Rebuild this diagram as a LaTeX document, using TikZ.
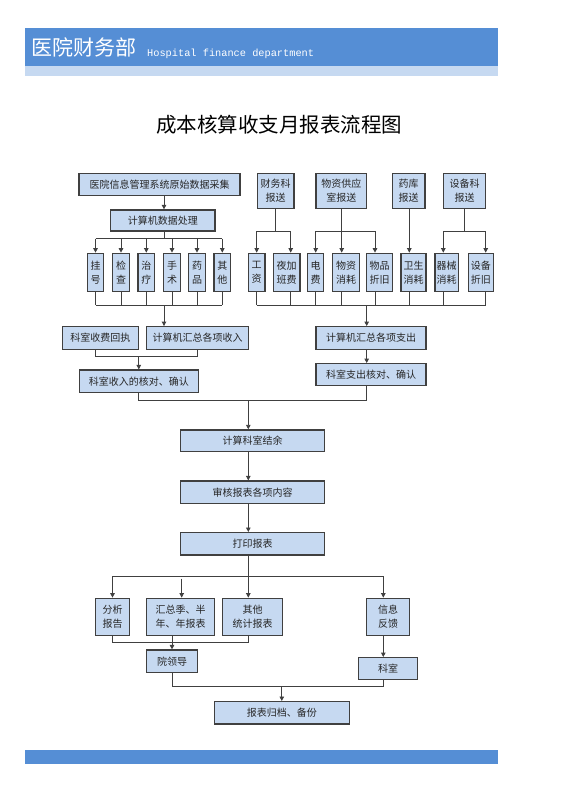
\documentclass[tikz,border=0pt]{standalone}
\usepackage{fontspec}
\newfontfamily\cjk{Noto Sans CJK SC}
\newfontfamily\monof{Liberation Mono}
\usetikzlibrary{arrows.meta}
\definecolor{hdrblue}{HTML}{558ED5}
\definecolor{hdrlight}{HTML}{C6D9F1}
\definecolor{boxfill}{HTML}{C6D9F1}
\definecolor{boxline}{HTML}{404040}
\definecolor{conn}{HTML}{404040}
\begin{document}
\begin{tikzpicture}[x=1pt,y=-1pt,
  box/.style={draw=boxline, line width=1.3pt, fill=boxfill, inner sep=0pt, align=center,
    font=\cjk\fontsize{10}{14}\selectfont, text=black!85},
  link/.style={draw=conn, line width=0.9pt},
  arr/.style={link, -{Triangle[length=4.5pt,width=4.5pt]}}]
\useasboundingbox (0,0) rectangle (560,793);
\fill[white] (0,0) rectangle (560,793);
% header and footer
\fill[hdrlight] (25,65.7) rectangle (498.3,76.3);
\fill[hdrblue] (25,27.7) rectangle (498.3,65.7);
\fill[hdrblue] (25,750) rectangle (498.3,763.7);
\node[anchor=base west, inner sep=0pt, text=white, font=\cjk\fontsize{21}{21}\selectfont] (hdrcn) at (31,55) {医院财务部};
\node[anchor=base west, inner sep=0pt, text=white, font=\monof\fontsize{10.3}{10.3}\selectfont] (hdren) at (147,56) {Hospital finance department};
% title
\node[anchor=base, inner sep=0pt, font=\cjk\fontsize{20.5}{20.5}\selectfont] (title) at (279.3,132.5) {成本核算收支月报表流程图};

% top left
\node[box, minimum width=161pt, minimum height=22.4pt] (src) at (159.5,184.5) {医院信息管理系统原始数据采集};
\node[box, minimum width=104.3pt, minimum height=21pt] (proc) at (162.8,220.5) {计算机数据处理};
\foreach \n/\x/\t in {g1/95.5/挂\\号, g2/121/检\\查, g3/146.3/治\\疗, g4/172/手\\术, g5/197/药\\品, g6/222.3/其\\他}
  \node[box, minimum width=16.5pt, minimum height=38.4pt] (\n) at (\x,272.5) {\t};

% top right
\node[box, minimum width=36.7pt, minimum height=35pt] (r1) at (275.7,190.8) {财务科\\报送};
\node[box, minimum width=50.7pt, minimum height=35pt] (r2) at (341.3,190.8) {物资供应\\室报送};
\node[box, minimum width=32.7pt, minimum height=35pt] (r3) at (408.7,190.8) {药库\\报送};
\node[box, minimum width=42.4pt, minimum height=35pt] (r4) at (464.5,190.8) {设备科\\报送};
\node[box, minimum width=16.7pt, minimum height=38.4pt] (s1) at (256.7,272.5) {工\\资};
\node[box, minimum width=26.7pt, minimum height=38.4pt] (s2) at (286.7,272.5) {夜加\\班费};
\node[box, minimum width=15.6pt, minimum height=38.4pt] (s3) at (315.5,272.5) {电\\费};
\node[box, minimum width=26.6pt, minimum height=38.4pt] (s4) at (346,272.5) {物资\\消耗};
\node[box, minimum width=26pt, minimum height=38.4pt] (s5) at (379.7,272.5) {物品\\折旧};
\node[box, minimum width=25pt, minimum height=38.4pt] (s6) at (413.5,272.5) {卫生\\消耗};
\node[box, minimum width=23.3pt, minimum height=38.4pt] (s7) at (446.7,272.5) {器械\\消耗};
\node[box, minimum width=25pt, minimum height=38.4pt] (s8) at (480.8,272.5) {设备\\折旧};

% middle
\node[box, minimum width=76pt, minimum height=22.6pt] (rec) at (100.3,338) {科室收费回执};
\node[box, minimum width=101.6pt, minimum height=22.6pt] (inc) at (197.5,338) {计算机汇总各项收入};
\node[box, minimum width=119pt, minimum height=22.3pt] (chk) at (138.8,381.2) {科室收入的核对、确认};
\node[box, minimum width=110pt, minimum height=22.6pt] (exp) at (371,338) {计算机汇总各项支出};
\node[box, minimum width=110pt, minimum height=22pt] (echk) at (371,374.7) {科室支出核对、确认};

% lower
\node[box, minimum width=143.6pt, minimum height=21.7pt] (bal) at (252.5,440.8) {计算科室结余};
\node[box, minimum width=143.6pt, minimum height=22.3pt] (aud) at (252.5,492.2) {审核报表各项内容};
\node[box, minimum width=143.6pt, minimum height=22.3pt] (prt) at (252.5,543.8) {打印报表};
\node[box, minimum width=33.6pt, minimum height=37.4pt] (ana) at (112.5,617) {分析\\报告};
\node[box, minimum width=67.6pt, minimum height=37.4pt] (sum) at (180.5,617) {汇总季、半\\年、年报表};
\node[box, minimum width=59.6pt, minimum height=37.4pt] (oth) at (252.5,617) {其他\\统计报表};
\node[box, minimum width=42.6pt, minimum height=37.4pt] (fb) at (388,617) {信息\\反馈};
\node[box, minimum width=50.6pt, minimum height=22.3pt] (lead) at (172,661.2) {院领导};
\node[box, minimum width=59.4pt, minimum height=21.6pt] (dept) at (388,668.5) {科室};
\node[box, minimum width=135pt, minimum height=22.3pt] (arch) at (281.8,712.8) {报表归档、备份};

% helper coordinates
\coordinate (busL) at (0,238.7);
\coordinate (busR) at (0,231);
\coordinate (busB) at (0,305);
\coordinate (xa) at (164,0);
\coordinate (x1) at (256.7,0);
\coordinate (x2) at (290.7,0);
\coordinate (x3) at (315.7,0);
\coordinate (x4) at (341.7,0);
\coordinate (x5) at (375,0);
\coordinate (x6) at (409.3,0);
\coordinate (x7) at (443.3,0);
\coordinate (x8) at (485.7,0);
\coordinate (xex) at (366.7,0);
\coordinate (xrec) at (95.7,0);
\coordinate (j1y) at (0,356.7);
\coordinate (mrg) at (248.3,400);
\coordinate (dist) at (0,576);
\coordinate (xfb) at (383.3,0);
\coordinate (sumstart) at (181.7,578.5);
\coordinate (j2y) at (0,642.7);
\coordinate (j3y) at (0,686.7);

% connectors: left top
\draw[arr] (src.south -| xa) -- (proc.north -| xa);
\draw[link] (proc.south -| xa) -- (xa |- busL);
\draw[link] (g1.north |- busL) -- (g6.north |- busL);
\foreach \n in {g1,g2,g3,g4,g5,g6} \draw[arr] (\n.north |- busL) -- (\n.north);
% right top
\draw[link] (r1.south) -- (r1.south |- busR);
\draw[link] (x1 |- busR) -- (x2 |- busR);
\draw[arr] (x1 |- busR) -- (x1 |- s1.north);
\draw[arr] (x2 |- busR) -- (x2 |- s2.north);
\draw[link] (x4 |- r2.south) -- (x4 |- busR);
\draw[link] (x3 |- busR) -- (x5 |- busR);
\draw[arr] (x3 |- busR) -- (x3 |- s3.north);
\draw[arr] (x4 |- busR) -- (x4 |- s4.north);
\draw[arr] (x5 |- busR) -- (x5 |- s5.north);
\draw[arr] (x6 |- r3.south) -- (x6 |- s6.north);
\draw[link] (r4.south) -- (r4.south |- busR);
\draw[link] (x7 |- busR) -- (x8 |- busR);
\draw[arr] (x7 |- busR) -- (x7 |- s7.north);
\draw[arr] (x8 |- busR) -- (x8 |- s8.north);
% bottom buses
\foreach \n in {g1,g2,g3,g4,g5,g6} \draw[link] (\n.south) -- (\n.south |- busB);
\draw[link] (g1.south |- busB) -- (g6.south |- busB);
\draw[arr] (xa |- busB) -- (xa |- inc.north);
\draw[link] (x1 |- s1.south) -- (x1 |- busB);
\draw[link] (x2 |- s2.south) -- (x2 |- busB);
\draw[link] (x3 |- s3.south) -- (x3 |- busB);
\draw[link] (x4 |- s4.south) -- (x4 |- busB);
\draw[link] (x5 |- s5.south) -- (x5 |- busB);
\draw[link] (x6 |- s6.south) -- (x6 |- busB);
\draw[link] (x7 |- s7.south) -- (x7 |- busB);
\draw[link] (x8 |- s8.south) -- (x8 |- busB);
\draw[link] (x1 |- busB) -- (x8 |- busB);
\draw[arr] (xex |- busB) -- (xex |- exp.north);
% income / expense
\draw[link] (xrec |- rec.south) -- (xrec |- j1y) -| (inc.south);
\draw[arr] (chk.north |- j1y) -- (chk.north);
\draw[arr] (xex |- exp.south) -- (xex |- echk.north);
\draw[link] (chk.south) -- (chk.south |- mrg) -- (xex |- mrg) -- (xex |- echk.south);
\draw[arr] (mrg) -- (mrg |- bal.north);
\draw[arr] (mrg |- bal.south) -- (mrg |- aud.north);
\draw[arr] (mrg |- aud.south) -- (mrg |- prt.north);
% distribution
\draw[arr] (mrg |- prt.south) -- (mrg |- oth.north);
\draw[link] (ana.north |- dist) -- (xfb |- dist);
\draw[arr] (ana.north |- dist) -- (ana.north);
\draw[arr] (xfb |- dist) -- (xfb |- fb.north);
\draw[arr] (sumstart) -- (sumstart |- sum.north);
\draw[link] (ana.south) -- (ana.south |- j2y) -- (mrg |- j2y) -- (mrg |- oth.south);
\draw[arr] (sum.south -| lead.north) -- (lead.north);
\draw[arr] (xfb |- fb.south) -- (xfb |- dept.north);
\draw[link] (lead.south) -- (lead.south |- j3y) -- (xfb |- j3y) -- (xfb |- dept.south);
\draw[arr] (arch.north |- j3y) -- (arch.north);
\end{tikzpicture}
\end{document}
